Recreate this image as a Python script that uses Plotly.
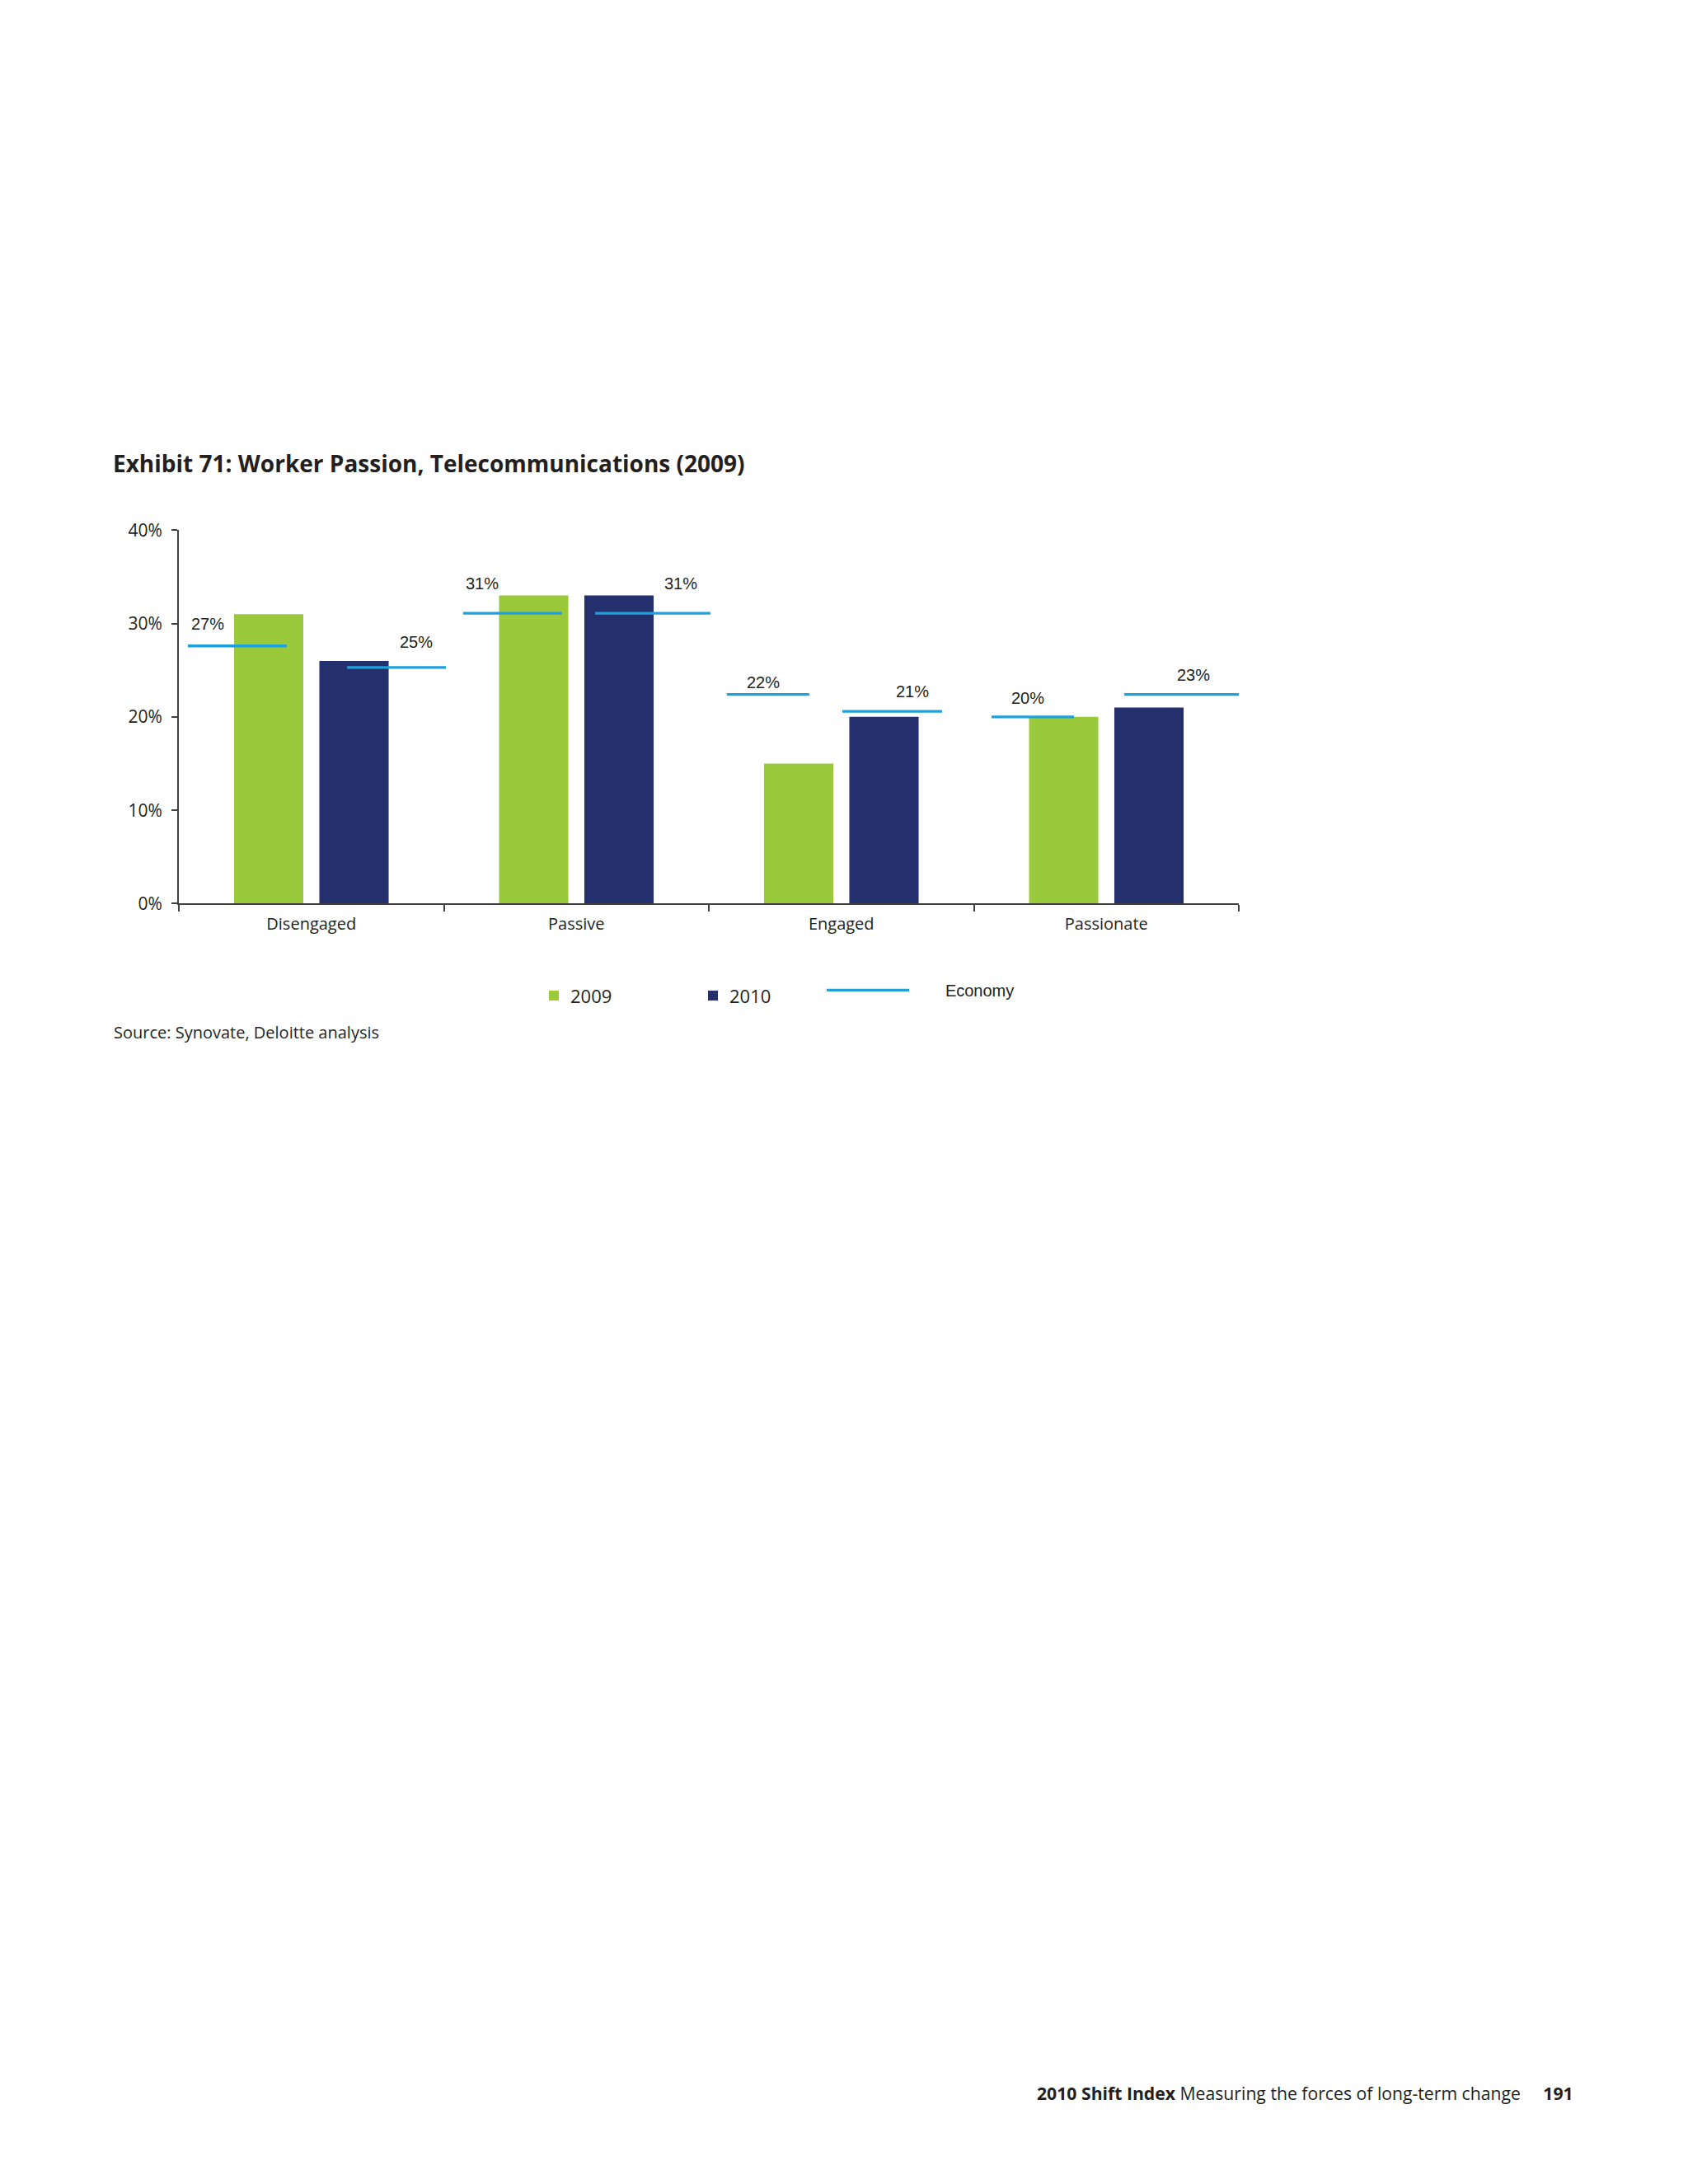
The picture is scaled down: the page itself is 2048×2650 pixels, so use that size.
import plotly.graph_objects as go

categories = ['Disengaged', 'Passive', 'Engaged', 'Passionate']
telecom_2009 = [31, 33, 15, 20]
telecom_2010 = [26, 33, 20, 21]
economy_2009 = [27.6, 31.1, 22.4, 20.0]
economy_2010 = [25.3, 31.1, 20.6, 22.4]
economy_2009_labels = ['27%', '31%', '22%', '20%']
economy_2010_labels = ['25%', '31%', '21%', '23%']
y_ticks = [0, 10, 20, 30, 40]
y_tick_labels = ['0%', '10%', '20%', '30%', '40%']

# where the economy dashes sit around each category (category units)
span_2009 = [(-0.466, -0.093), (-0.427, -0.054), (-0.432, -0.121), (-0.433, -0.122)]
span_2010 = [(0.135, 0.508), (0.071, 0.506), (0.004, 0.380), (0.068, 0.503)]
# label centre (category units) and lift above the dash (px)
lab_2009 = [(-0.391, 27), (-0.355, 36), (-0.295, 15), (-0.295, 23)]
lab_2010 = [(0.395, 31), (0.394, 36), (0.268, 24), (0.329, 24)]

W, H = 2048, 2650
GREEN = '#9BC93C'
NAVY = '#24306E'
BLUE = '#1FA0DA'
TXT = '#231F20'
AXIS = '#404040'
FRUT = 'Open Sans, sans-serif'
ARIAL = 'Liberation Sans, Arial, sans-serif'


def px(x):
    return x / W


def py(y):
    return 1 - y / H


econ_x, econ_y = [], []
for i, (v09, v10) in enumerate(zip(economy_2009, economy_2010)):
    for (a, b), v in ((span_2009[i], v09), (span_2010[i], v10)):
        econ_x += [i + a, i + b, None]
        econ_y += [v, v, None]

fig = go.Figure()
fig.add_trace(go.Bar(x=categories, y=telecom_2009, name='2009',
                     marker=dict(color=GREEN, line=dict(width=0)), legend='legend'))
fig.add_trace(go.Bar(x=categories, y=telecom_2010, name='2010',
                     marker=dict(color=NAVY, line=dict(width=0)), legend='legend2'))
fig.add_trace(go.Scatter(x=econ_x, y=econ_y, xaxis='x2', mode='lines',
                         name='&nbsp;' * 7 + 'Economy',
                         line=dict(color=BLUE, width=3.3), legend='legend3'))

annotations = []
for i in range(len(categories)):
    for (dx, lift), v, t in ((lab_2009[i], economy_2009[i], economy_2009_labels[i]),
                             (lab_2010[i], economy_2010[i], economy_2010_labels[i])):
        annotations.append(dict(x=i + dx, y=v, xref='x2', yref='y', text=t, showarrow=False,
                                yshift=lift, font=dict(family=ARIAL, size=20, color=TXT)))

annotations.append(dict(x=px(135), y=py(553), xref='paper', yref='paper', xanchor='left',
                        yanchor='middle', showarrow=False,
                        text='<b>Exhibit 71: Worker Passion, Telecommunications (2009)</b>',
                        font=dict(family=FRUT, size=28, color=TXT)))
annotations.append(dict(x=px(136), y=py(1251), xref='paper', yref='paper', xanchor='left',
                        yanchor='middle', showarrow=False,
                        text='Source: Synovate, Deloitte analysis',
                        font=dict(family=FRUT, size=20, color=TXT)))
annotations.append(dict(x=px(1911), y=py(2551), xref='paper', yref='paper', xanchor='right',
                        yanchor='middle', showarrow=False,
                        text='<b>2010 Shift Index</b> Measuring the forces of long-term change'
                             '&nbsp;&nbsp;&nbsp;&nbsp;&nbsp;<b>191</b>',
                        font=dict(family=FRUT, size=21.2, color=TXT)))

legend_common = dict(orientation='h', xanchor='left', yanchor='middle',
                     bgcolor='rgba(0,0,0,0)', borderwidth=0)

fig.update_layout(
    width=W, height=H,
    margin=dict(l=0, r=0, t=0, b=0),
    paper_bgcolor='white', plot_bgcolor='white',
    barmode='group', bargap=0.356, bargroupgap=0.188,
    showlegend=True,
    legend=dict(x=px(652), y=py(1206), font=dict(family=FRUT, size=22, color=TXT), **legend_common),
    legend2=dict(x=px(845), y=py(1206), font=dict(family=FRUT, size=22, color=TXT), **legend_common),
    legend3=dict(x=px(998), y=py(1199), itemwidth=100,
                 font=dict(family=ARIAL, size=20, color=TXT), **legend_common),
    xaxis=dict(domain=[px(217), px(1503)], type='category', range=[-0.5, 3.5],
               tickson='boundaries', ticks='outside', ticklen=8, tickwidth=2, tickcolor=AXIS,
               showline=True, linecolor=AXIS, linewidth=2, showgrid=False,
               ticklabelstandoff=6,
               tickfont=dict(family=FRUT, size=20, color=TXT)),
    xaxis2=dict(overlaying='x', range=[-0.5, 3.5], visible=False),
    yaxis=dict(domain=[py(1093), py(635)], range=[0, 40], tickvals=y_ticks,
               ticktext=y_tick_labels, ticks='outside', ticklen=7, tickwidth=2, tickcolor=AXIS,
               showline=True, linecolor=AXIS, linewidth=2, showgrid=False, zeroline=False,
               ticklabelstandoff=7,
               tickfont=dict(family=FRUT, size=21, color=TXT)),
    annotations=annotations,
)

fig.write_html('out.html', config={'displayModeBar': False},
               post_script="document.body.style.margin='0';")
